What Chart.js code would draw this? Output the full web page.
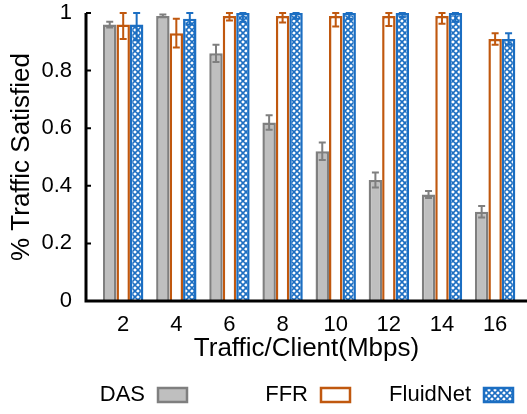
<!DOCTYPE html>
<html lang="en">
<head>
  <title>Traffic Satisfied</title>
  <script src="https://cdn.jsdelivr.net/npm/chart.js"></script>
</head>

<style>
  html, body { margin: 0; padding: 0; background: white; overflow: hidden; }
  #wrap { width: 527px; height: 414px; }
  canvas { display: block; }
</style>

<body>
  <div id="wrap"><canvas id="bar-chart" width="527" height="414"></canvas></div>

  <script>
    // traffic per client (Mbps)
    const trafficMbps = [2, 4, 6, 8, 10, 12, 14, 16];
    const seriesNames = ['DAS', 'FFR', 'FluidNet'];

    const dasValues = [0.96, 0.99, 0.86, 0.62, 0.52, 0.42, 0.37, 0.31];
    const dasErr = [0.01, 0.005, 0.03, 0.025, 0.03, 0.026, 0.012, 0.02];

    const ffrValues = [0.96, 0.93, 0.99, 0.99, 0.99, 0.99, 0.99, 0.91];
    const ffrErr = [0.05, 0.05, 0.016, 0.023, 0.037, 0.035, 0.027, 0.02];

    const fluidValues = [0.96, 0.98, 1.0, 1.0, 1.0, 1.0, 1.0, 0.91];
    const fluidErr = [0.055, 0.02, 0.03, 0.02, 0.02, 0.015, 0.03, 0.02];

    const yTicks = [0, 0.2, 0.4, 0.6, 0.8, 1];

    const GRAY = '#7f7f7f', GRAY_FILL = '#bfbfbf';
    const ORANGE = '#c0580f';
    const BLUE = '#1b6ec2';
    const FONT = "'Liberation Sans', Arial, sans-serif";

    // blue cross-hatch fill
    function makeHatch() {
      var c = document.createElement('canvas');
      c.width = 6; c.height = 6;
      var g = c.getContext('2d');
      g.fillStyle = '#ffffff';
      g.fillRect(0, 0, 6, 6);
      g.strokeStyle = BLUE;
      g.lineWidth = 1.6;
      g.beginPath();
      g.moveTo(0, 0); g.lineTo(6, 6);
      g.moveTo(6, 0); g.lineTo(0, 6);
      g.moveTo(-3, 3); g.lineTo(3, -3);
      g.moveTo(3, 9); g.lineTo(9, 3);
      g.moveTo(-3, 3); g.lineTo(3, 9);
      g.moveTo(3, -3); g.lineTo(9, 3);
      g.stroke();
      return g.createPattern(c, 'repeat');
    }
    const hatch = makeHatch();

    function toPoints(vals) {
      return trafficMbps.map(function (x, i) { return {x: x, y: vals[i]}; });
    }

    const errors = [dasErr, ffrErr, fluidErr];
    const errColors = [GRAY, ORANGE, BLUE];

    // error bars, drawn through the scales
    const errorBars = {
      id: 'errorBars',
      afterDatasetsDraw(chart) {
        var ctx = chart.ctx;
        var ys = chart.scales.y;
        ctx.save();
        chart.data.datasets.forEach(function (ds, di) {
          var meta = chart.getDatasetMeta(di);
          meta.data.forEach(function (bar, i) {
            var v = ds.data[i].y, e = errors[di][i];
            var top = ys.getPixelForValue(Math.min(v + e, ys.max));
            var bot = ys.getPixelForValue(v - e);
            ctx.strokeStyle = errColors[di];
            ctx.lineWidth = 2;
            ctx.beginPath();
            ctx.moveTo(bar.x, top); ctx.lineTo(bar.x, bot);
            ctx.moveTo(bar.x - 3.5, top); ctx.lineTo(bar.x + 3.5, top);
            ctx.moveTo(bar.x - 3.5, bot); ctx.lineTo(bar.x + 3.5, bot);
            ctx.stroke();
          });
        });
        ctx.restore();
      }
    };

    // axis lines + inward tick marks on the y axis
    const axesLines = {
      id: 'axesLines',
      afterDraw(chart) {
        var ctx = chart.ctx, ys = chart.scales.y, area = chart.chartArea;
        var x0 = area.left, y0 = ys.getPixelForValue(0);
        ctx.save();
        ctx.strokeStyle = '#000';
        ctx.lineWidth = 3;
        ctx.beginPath();
        ctx.moveTo(x0, area.top);
        ctx.lineTo(x0, y0);
        ctx.lineTo(chart.width, y0);
        ctx.stroke();
        ctx.lineWidth = 2;
        ctx.beginPath();
        yTicks.forEach(function (t) {
          var py = ys.getPixelForValue(t);
          ctx.moveTo(x0, py); ctx.lineTo(x0 + 5, py);
        });
        ctx.stroke();
        ctx.restore();
      }
    };

    // legend: label on the left, swatch on the right
    const sideLegend = {
      id: 'sideLegend',
      afterDraw(chart) {
        var ctx = chart.ctx;
        var boxX = [158, 321, 484];
        var cy = 395;
        ctx.save();
        ctx.font = '22px ' + FONT;
        ctx.textAlign = 'right';
        ctx.textBaseline = 'middle';
        chart.data.datasets.forEach(function (ds, i) {
          ctx.fillStyle = '#000';
          ctx.fillText(seriesNames[i], boxX[i] - 13, cy);
          ctx.fillStyle = ds.backgroundColor;
          ctx.fillRect(boxX[i], cy - 7, 29, 14);
          ctx.strokeStyle = ds.borderColor;
          ctx.lineWidth = 2.5;
          ctx.strokeRect(boxX[i], cy - 7, 29, 14);
        });
        ctx.restore();
      }
    };

    var ctx1 = document.getElementById('bar-chart').getContext('2d');
    var chart1 = new Chart(ctx1, {
      type: 'bar',
      data: {
        datasets: [{
          label: seriesNames[0],
          data: toPoints(dasValues),
          backgroundColor: GRAY_FILL,
          borderColor: GRAY,
          borderWidth: 2.5
        }, {
          label: seriesNames[1],
          data: toPoints(ffrValues),
          backgroundColor: '#ffffff',
          borderColor: ORANGE,
          borderWidth: 2.5
        }, {
          label: seriesNames[2],
          data: toPoints(fluidValues),
          backgroundColor: hatch,
          borderColor: BLUE,
          borderWidth: 2.5
        }]
      },
      options: {
        responsive: false,
        animation: false,
        devicePixelRatio: 1,
        categoryPercentage: 0.76,
        barPercentage: 1,
        layout: { padding: { top: 13, right: 0, bottom: 50, left: 0 } },
        plugins: {
          legend: { display: false },
          tooltip: { enabled: false }
        },
        scales: {
          x: {
            type: 'linear',
            offset: false,
            min: 0.6,
            max: 17.2,
            afterBuildTicks: function (s) {
              s.ticks = trafficMbps.map(function (v) { return {value: v}; });
            },
            afterFit: function (s) {
              s.height = 63;
              s.paddingLeft = 0; s.paddingRight = 0;
            },
            grid: { display: false, drawTicks: false, offset: false },
            border: { display: false },
            ticks: {
              autoSkip: false,
              maxRotation: 0,
              padding: 11,
              color: '#000',
              font: { family: FONT, size: 22 }
            },
            title: {
              display: true,
              text: 'Traffic/Client(Mbps)',
              color: '#000',
              padding: { top: 0, bottom: 0 },
              font: { family: FONT, size: 26 }
            }
          },
          y: {
            min: 0,
            max: 1,
            afterFit: function (s) {
              s.width = 86;
              s.paddingTop = 0; s.paddingBottom = 0;
            },
            afterBuildTicks: function (s) {
              s.ticks = yTicks.map(function (v) { return {value: v}; });
            },
            grid: { display: false, drawTicks: false },
            border: { display: false },
            ticks: {
              padding: 14,
              color: '#000',
              font: { family: FONT, size: 22 },
              callback: function (v) { return String(Math.round(v * 10) / 10); }
            },
            title: {
              display: true,
              text: '% Traffic Satisfied',
              color: '#000',
              padding: { top: 6, bottom: 0 },
              font: { family: FONT, size: 26 }
            }
          }
        }
      },
      plugins: [errorBars, axesLines, sideLegend]
    });
  </script>
</body>

</html>
